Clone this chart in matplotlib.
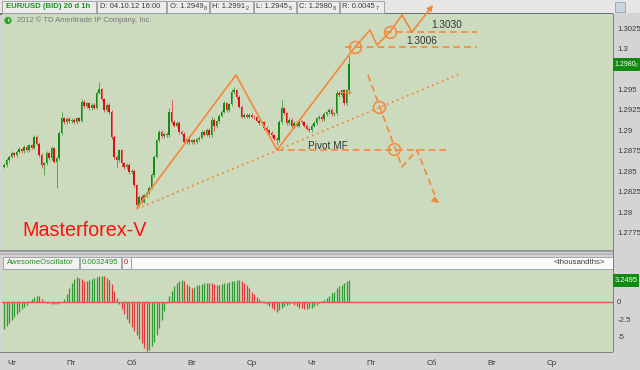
import matplotlib
matplotlib.use('Agg')
import matplotlib.pyplot as plt
from matplotlib.patches import Rectangle, Circle
import numpy as np

plt.rcParams['font.family'] = ['Liberation Sans', 'DejaVu Sans']

W, H = 640, 370

# ---------------- data ----------------
first_open = 1.2856
closes = [
    1.2858, 1.2864, 1.2868, 1.2872, 1.2870, 1.2874, 1.2877, 1.2875, 1.2880, 1.2876,
    1.2882, 1.2879, 1.2892, 1.2884, 1.2870, 1.2858, 1.2860, 1.2872, 1.2866, 1.2878,
    1.2862, 1.2866, 1.2897, 1.2915, 1.2910, 1.2914, 1.2911, 1.2913, 1.2910, 1.2915,
    1.2912, 1.2935, 1.2930, 1.2933, 1.2927, 1.2931, 1.2928, 1.2946, 1.2950, 1.2938,
    1.2925, 1.2931, 1.2922, 1.2892, 1.2868, 1.2864, 1.2876, 1.2860, 1.2855, 1.2858,
    1.2849, 1.2851, 1.2833, 1.2809, 1.2819, 1.2813, 1.2821, 1.2824, 1.2830, 1.2846,
    1.2868, 1.2888, 1.2898, 1.2893, 1.2896, 1.2894, 1.2923, 1.2910, 1.2906, 1.2909,
    1.2898, 1.2896, 1.2886, 1.2889, 1.2886, 1.2888, 1.2886, 1.2889, 1.2891, 1.2898,
    1.2895, 1.2901, 1.2894, 1.2913, 1.2905, 1.2911, 1.2918, 1.2923, 1.2933, 1.2925,
    1.2932, 1.2947, 1.2949, 1.2941, 1.2929, 1.2917, 1.2919, 1.2917, 1.2919, 1.2917,
    1.2916, 1.2912, 1.2909, 1.2910, 1.2903, 1.2900, 1.2897, 1.2894, 1.2890, 1.2888,
    1.2910, 1.2927, 1.2921, 1.2909, 1.2913, 1.2905, 1.2909, 1.2906, 1.2911, 1.2910,
    1.2906, 1.2902, 1.2900, 1.2906, 1.2909, 1.2915, 1.2917, 1.2914, 1.2920, 1.2922,
    1.2925, 1.2920, 1.2921, 1.2946, 1.2943, 1.2949, 1.2933, 1.2949, 1.29808,
]
wick_up = [  # pips above candle body
    2, 2, 2, 3, 2, 2, 3, 2, 2, 2,
    2, 2, 3, 2, 2, 2, 2, 3, 2, 3,
    2, 2, 2, 8, 2, 2, 2, 2, 2, 2,
    2, 3, 2, 2, 2, 2, 2, 2, 9, 2,
    2, 2, 2, 3, 2, 2, 2, 2, 2, 2,
    2, 2, 2, 2, 2, 2, 2, 2, 2, 2,
    2, 2, 2, 2, 2, 2, 4, 14, 3, 2,
    2, 2, 2, 2, 2, 2, 2, 2, 2, 2,
    2, 2, 2, 3, 2, 2, 2, 2, 3, 2,
    2, 3, 4, 2, 2, 2, 2, 2, 2, 2,
    2, 2, 2, 2, 2, 2, 2, 2, 2, 2,
    3, 10, 2, 2, 2, 2, 2, 2, 2, 2,
    2, 2, 2, 2, 2, 2, 2, 2, 2, 2,
    2, 2, 2, 3, 2, 2, 2, 2, 10,
]
wick_dn = [  # pips below candle body
    2, 2, 2, 2, 2, 2, 2, 2, 2, 2,
    2, 2, 2, 2, 2, 4, 12, 2, 2, 2,
    2, 32, 2, 2, 2, 2, 2, 2, 2, 2,
    2, 2, 2, 2, 2, 2, 2, 2, 2, 2,
    2, 2, 2, 2, 3, 10, 2, 4, 2, 2,
    2, 2, 2, 4, 2, 2, 2, 2, 2, 2,
    3, 2, 2, 2, 2, 2, 2, 2, 2, 2,
    2, 2, 3, 2, 2, 2, 2, 2, 2, 2,
    2, 2, 2, 2, 6, 2, 2, 2, 2, 2,
    2, 2, 2, 2, 2, 2, 2, 2, 2, 2,
    2, 2, 2, 2, 2, 2, 2, 2, 2, 6,
    2, 2, 2, 2, 2, 2, 2, 2, 2, 2,
    2, 2, 2, 2, 2, 2, 2, 2, 2, 2,
    2, 2, 2, 2, 2, 2, 2, 2, 4,
]
ao_values = [  # thousandths
    -3.9, -3.5, -3.1, -2.6, -2.2, -1.8, -1.4, -1.0, -0.7, -0.4,
    0.1, 0.4, 0.7, 0.85, 0.8, 0.5, 0.2, -0.1, -0.2, -0.3,
    -0.25, -0.3, -0.2, 0.0, 0.5, 1.2, 2.0, 2.8, 3.4, 3.6,
    3.5, 3.3, 3.1, 3.0, 3.2, 3.4, 3.5, 3.65, 3.75, 3.8,
    3.7, 3.5, 3.2, 2.6, 1.6, 0.6, -0.3, -1.0, -1.7, -2.4,
    -3.0, -3.6, -4.2, -4.8, -5.4, -6.0, -6.6, -7.1, -6.9, -6.4,
    -5.8, -4.8, -3.8, -2.6, -1.3, -0.2, 0.8, 1.6, 2.3, 2.8,
    3.1, 3.2, 3.0, 2.6, 2.3, 2.1, 2.2, 2.4, 2.5, 2.6,
    2.7, 2.8, 2.75, 2.7, 2.6, 2.5, 2.45, 2.6, 2.7, 2.8,
    2.9, 3.0, 3.1, 3.2, 3.25, 3.1, 2.8, 2.4, 2.0, 1.5,
    1.1, 0.7, 0.4, 0.1, -0.1, -0.3, -0.6, -0.9, -1.2, -1.4,
    -1.2, -0.9, -0.6, -0.4, -0.3, -0.2, -0.4, -0.6, -0.8, -0.9,
    -1.0, -0.95, -0.9, -0.8, -0.6, -0.4, -0.1, 0.2, 0.3, 0.6,
    0.9, 1.3, 1.5, 2.0, 2.3, 2.5, 2.8, 3.0, 3.2495,
]
day_labels = ['Чт', 'Пт', 'Сб', 'Вт', 'Ср', 'Чт', 'Пт', 'Сб', 'Вт', 'Ср']
day_start_bars = [4, 28, 52, 76, 100, 124, 148, 172, 196, 220]
price_ticks = [1.2775, 1.28, 1.2825, 1.285, 1.2875, 1.29, 1.2925, 1.295, 1.2975, 1.3, 1.3025]
ao_ticks = [-5, -2.5, 0, 2.5]

# analysis drawings (bar index, price)
zigzag_x = [54.2, 93.8, 110.2, 141.4, 147.4, 150.2, 155.4, 160.2, 164.2]
zigzag_y = [1.28055, 1.29677, 1.28762, 1.30018, 1.30226, 1.30043, 1.30201, 1.30409, 1.30201]
zigzag_tip = (172.6, 1.30531)
down_x = [146.6, 160.2, 166.2]
down_y = [1.29677, 1.28555, 1.28762]
down_tip = (174.6, 1.28116)
trend_x = [54.2, 184.2]
trend_y = [1.28043, 1.29701]
pivot_level = (110.2, 178.2, 1.28762)
level_3006 = (137.4, 190.2, 1.30018)
level_3030 = (153.4, 190.2, 1.30201)
circle_x = [141.4, 155.4, 151.0, 157.0]
circle_y = [1.30018, 1.30201, 1.29287, 1.28774]

ORANGE = '#f5883a'
GREEN = '#138c13'
RED = '#dc1010'
BG = '#ccdabe'
GRAY = '#d4d4d4'

fig = plt.figure(figsize=(6.4, 3.7), dpi=100)
fig.patch.set_facecolor(GRAY)

def fx(px):
    return px / W

def fy(py):
    return 1 - py / H

# background / frame axes
bg = fig.add_axes([0, 0, 1, 1], zorder=0)
bg.set_xlim(0, W); bg.set_ylim(H, 0); bg.axis('off')
bg.add_patch(Rectangle((0, 0), W, 13, fc='#e6e6e6', ec='none'))
bg.add_patch(Rectangle((0, 13), 613, 1.5, fc='#6e6e6e', ec='none'))
hdr_boxes = [(2, 96), (97, 166), (167, 209), (210, 253), (254, 296), (297, 339), (340, 384)]
for a, b in hdr_boxes:
    bg.add_patch(Rectangle((a, 1), b - a, 11.5, fc='#ececec', ec='#9a9a9a', lw=0.6))
bg.add_patch(Rectangle((615, 2), 10, 10, fc='#c8d4e0', ec='#8899aa', lw=0.5))
bg.add_patch(Rectangle((0, 249.5), 613, 2.5, fc='#9a9a9a', ec='none'))
bg.add_patch(Rectangle((0, 253), 613, 1.5, fc='#b8b8b8', ec='none'))
ao_boxes = [(3, 79), (80, 121), (122, 131)]
for a, b in ao_boxes:
    bg.add_patch(Rectangle((a, 256.5), b - a, 12.5, fc='#f2f2f2', ec='#9a9a9a', lw=0.6))
bg.add_patch(Rectangle((131, 256.5), 482, 12.5, fc='#fafafa', ec='#9a9a9a', lw=0.6))
bg.add_patch(Rectangle((612.5, 14), 1, 338, fc='#808080', ec='none'))
bg.add_patch(Rectangle((0, 352), 613, 1, fc='#808080', ec='none'))

# ---------------- main price axes ----------------
ax = fig.add_axes([fx(2), fy(250), 611 / W, 236 / H], zorder=1)
ax.set_facecolor(BG)
ax.set_xlim(0.2, 244.6)
ax.set_ylim(1.275417, 1.304209)
for s in ax.spines.values():
    s.set_visible(False)
ax.set_xticks([])
ax.yaxis.tick_right()
ax.set_yticks(price_ticks)
ax.set_yticklabels([f'{v:g}' for v in price_ticks])
ax.tick_params(axis='y', length=0, pad=3, labelsize=5.6, labelcolor='#3a3a3a')

bars = np.arange(1, len(closes) + 1)
opens = np.array([first_open] + closes[:-1])
cl = np.array(closes)
hi = np.maximum(opens, cl) + np.array(wick_up) * 1e-4
lo = np.minimum(opens, cl) - np.array(wick_dn) * 1e-4
up = cl >= opens
colors = np.where(up, GREEN, RED)
wick_colors = np.where(up, '#4fa84f', '#e05a5a')
ax.vlines(bars, lo, hi, colors=wick_colors, lw=0.7, zorder=2)
body_h = np.abs(cl - opens)
body_h = np.where(body_h < 0.00004, 0.00004, body_h)
ax.bar(bars, body_h, bottom=np.minimum(opens, cl), width=0.75, color=colors, lw=0, zorder=3)

# drawings
ax.plot(zigzag_x, zigzag_y, color=ORANGE, lw=1.2, zorder=4, clip_on=False)
ax.annotate('', xy=zigzag_tip, xytext=(zigzag_x[-1], zigzag_y[-1]), annotation_clip=False,
            arrowprops=dict(arrowstyle='-|>', color=ORANGE, lw=1.2, mutation_scale=8,
                            shrinkA=0, shrinkB=0), zorder=4)
ax.plot(down_x + [down_tip[0]], down_y + [down_tip[1]], color=ORANGE, lw=1.2,
        ls=(0, (4, 2.5)), zorder=4)
ax.annotate('', xy=down_tip, xytext=(down_tip[0] - 0.8, down_tip[1] + 0.0002),
            arrowprops=dict(arrowstyle='-|>', color=ORANGE, lw=1.0, mutation_scale=8,
                            shrinkA=0, shrinkB=0), zorder=4)
ax.plot(trend_x, trend_y, color=ORANGE, lw=1.3, ls=(0, (1, 2)), zorder=4)
for x0, x1, yv in (pivot_level, level_3006, level_3030):
    ax.plot([x0, x1], [yv, yv], color=ORANGE, lw=1.2, ls=(0, (4, 2.5)), zorder=4)
ax.plot([135.4, 139.6], [1.29469, 1.29469], color=ORANGE, lw=1.0, zorder=4)
ax.plot(circle_x, circle_y, ls='none', marker='o', ms=8.5, mfc='none', mec=ORANGE, mew=1.1,
        zorder=5, clip_on=False)
ax.text(178.2, 1.30287, '1.3030', fontsize=7.2, color='#333333', ha='center', va='center', zorder=5)
ax.text(168.2, 1.30091, '1.3006', fontsize=7.2, color='#333333', ha='center', va='center', zorder=5)
ax.text(130.6, 1.28815, 'Pivot MF', fontsize=7.2, color='#333333', ha='center', va='center', zorder=5)

fig.text(fx(22), fy(230), 'Masterforex-V', fontsize=14.2, color='#ff1010', ha='left', va='center', zorder=6)

# ---------------- AO axes ----------------
ao_ax = fig.add_axes([fx(2), fy(352), 611 / W, 82 / H], zorder=1)
ao_ax.set_facecolor(BG)
ao_ax.set_xlim(0.2, 244.6)
ao_ax.set_ylim(-7.25, 4.64)
for s in ao_ax.spines.values():
    s.set_visible(False)
ao_vals = np.array(ao_values)
prev = np.concatenate([[ao_vals[0] - 0.1], ao_vals[:-1]])
ao_cols = np.where(ao_vals >= prev, '#2f9a2f', '#e23a3a')
ao_ax.vlines(bars, 0, ao_vals, colors=ao_cols, lw=0.9, zorder=2)
ao_ax.axhline(0, color='#e0584a', lw=1.0, zorder=3)
ao_ax.yaxis.tick_right()
ao_ax.set_yticks(ao_ticks)
ao_ax.set_yticklabels([f'{v:g}' for v in ao_ticks])
ao_ax.tick_params(axis='y', length=0, pad=3, labelsize=5.6, labelcolor='#3a3a3a')
ao_ax.set_xticks(day_start_bars)
ao_ax.set_xticklabels(day_labels)
ao_ax.tick_params(axis='x', length=0, pad=6, labelsize=5.8, labelcolor='#3a3a3a')

# ---------------- overlay texts ----------------
ov = fig.add_axes([0, 0, 1, 1], zorder=3)
ov.set_xlim(0, W); ov.set_ylim(H, 0); ov.axis('off')
ov.add_patch(Rectangle((613, 57.5), 27, 13, fc='#108a10', ec='none'))
ov.text(614.2, 64, '1.2980', fontsize=5.0, color='white', ha='left', va='center')
ov.text(635.0, 65.5, '8', fontsize=3.6, color='#b8e0b8', ha='left', va='center')
ov.add_patch(Rectangle((613, 274), 26, 13, fc='#108a10', ec='none'))
ov.text(614.5, 280.5, '3.2495', fontsize=5.4, color='white', ha='left', va='center')
ov.add_patch(Circle((8, 20.5), 3.6, fc='#2aa52a', ec='none'))
ov.text(8, 20.8, 'i', fontsize=4.5, color='white', ha='center', va='center', weight='bold')
ov.text(17, 20.5, '2012 © TD Ameritrade IP Company, Inc.', fontsize=5.4, color='#7a7a7a',
        ha='left', va='center')

renderer = fig.canvas.get_renderer()

def split_text(x, y, main, small, color='#3a3a3a', size=5.5, **kw):
    t = fig.text(fx(x), fy(y), main, fontsize=size, color=color, ha='left', va='center', zorder=7, **kw)
    if small:
        bb = t.get_window_extent(renderer)
        fig.text(bb.x1 / W + 0.5 / W, fy(y + 1), small, fontsize=size * 0.72, color=color,
                 ha='left', va='center', zorder=7)

split_text(6, 7, 'EUR/USD (BID) 20 d 1h', '', color='#1f8f1f', size=5.6, weight='bold')
split_text(100, 7, 'D: 04.10.12 16:00', '')
split_text(170, 7, 'O: 1.2949', '8')
split_text(212, 7, 'H: 1.2991', '2')
split_text(256, 7, 'L: 1.2945', '5')
split_text(299, 7, 'C: 1.2980', '8')
split_text(342, 7, 'R: 0.0045', '7')
split_text(7, 262.8, 'AwesomeOscillator', '', color='#1f8f1f', size=5.6)
split_text(82, 262.8, '0.0032495', '', color='#1f8f1f', size=5.6)
split_text(124, 262.8, '0', '', color='#e02020', size=5.6)
fig.text(fx(605), fy(262.8), '<thousandths>', fontsize=5.6, color='#3a3a3a', ha='right', va='center', zorder=7)

fig.savefig('out.png', dpi=100, facecolor=fig.get_facecolor())
